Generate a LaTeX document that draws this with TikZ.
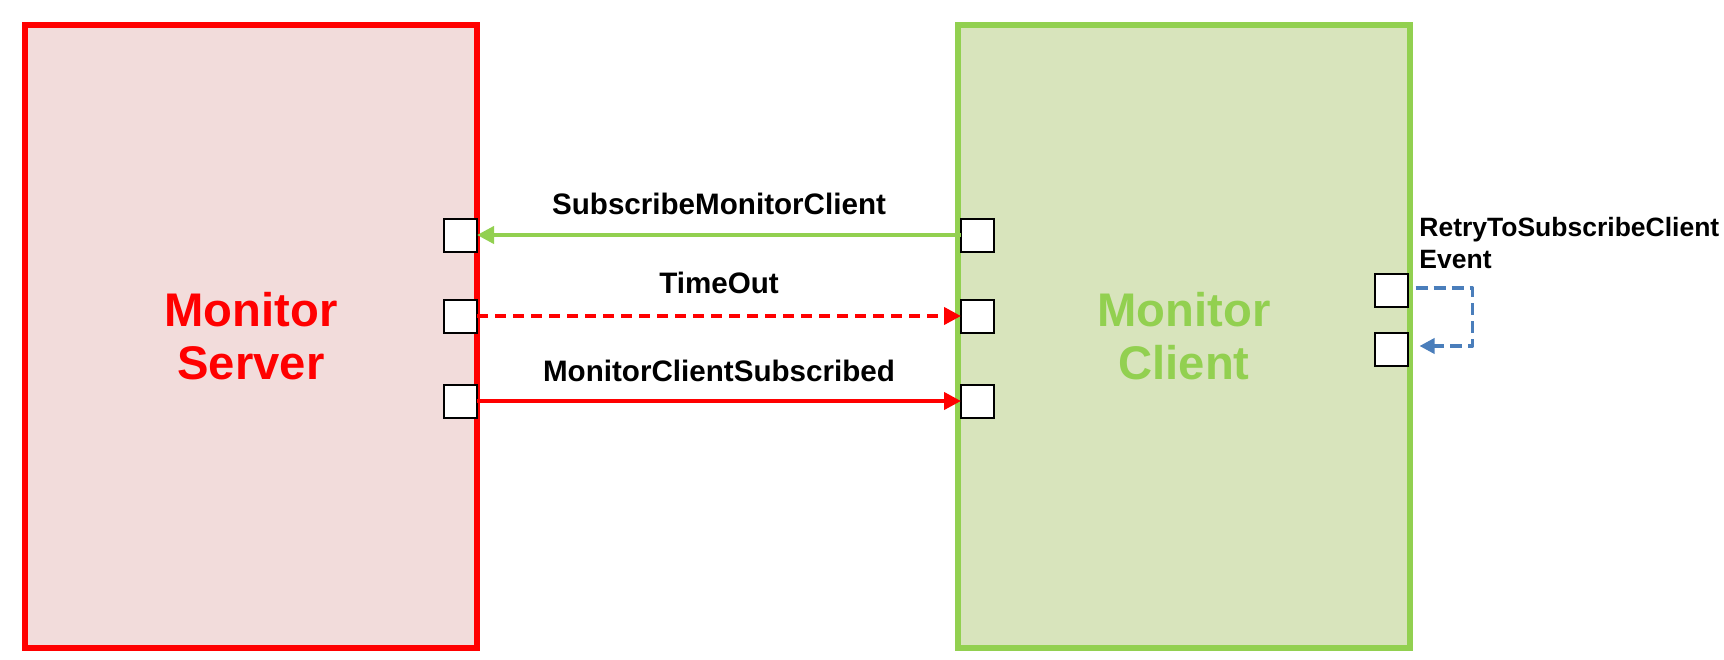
\documentclass[tikz,border=0pt]{standalone}
\usepackage{fontspec}
\setmainfont{Liberation Sans}
\usetikzlibrary{arrows.meta,positioning}
\definecolor{srvred}{HTML}{FF0000}
\definecolor{srvfill}{HTML}{F2DCDB}
\definecolor{cligreen}{HTML}{92D050}
\definecolor{clifill}{HTML}{D8E4BC}
\definecolor{retryblue}{HTML}{4A7EBB}
\begin{document}
\begin{tikzpicture}[x=0.5pt,y=-0.5pt,
	box/.style={rectangle,draw,line width=2.75pt,outer sep=0,minimum width=226pt,
		minimum height=311.5pt,align=center,font=\bfseries\fontsize{23.6}{26.5}\selectfont},
	port/.style={rectangle,draw=black,fill=white,line width=1pt,minimum size=16.5pt,
		inner sep=0,outer sep=0},
	msg/.style={line width=2pt,-{Triangle[length=8.5pt,width=8.5pt]}},
	lbl/.style={font=\bfseries\fontsize{14.8}{17}\selectfont,inner sep=0,text=black},
	note/.style={font=\bfseries\fontsize{13.25}{16}\selectfont,inner sep=0,align=left}]
\useasboundingbox (0,0) rectangle (1724,659);
% the two components
\node[box,draw=srvred,fill=srvfill,text=srvred] (server) at (251,336.5) {Monitor\\Server};
\node[box,draw=cligreen,fill=clifill,text=cligreen] (client) at (1184,336.5) {Monitor\\Client};
% ports
\node[port,anchor=east] (sp1) at (server.east |- 0,235) {};
\node[port,anchor=east] (sp2) at (server.east |- 0,316) {};
\node[port,anchor=east] (sp3) at (server.east |- 0,401) {};
\node[port,anchor=west,xshift=1.5pt] (cp1) at (client.west |- 0,235) {};
\node[port,anchor=west,xshift=1.5pt] (cp2) at (client.west |- 0,316) {};
\node[port,anchor=west,xshift=1.5pt] (cp3) at (client.west |- 0,401) {};
\node[port,anchor=east,xshift=-1.25pt] (cr1) at (client.east |- 0,290) {};
\node[port,anchor=east,xshift=-1.25pt] (cr2) at (client.east |- 0,349) {};
% messages
\draw[msg,cligreen] (cp1.west) -- node[lbl,above=9.25pt] {SubscribeMonitorClient} (sp1.east);
\draw[msg,srvred,dash pattern=on 5.5pt off 3.5pt] (sp2.east) -- node[lbl,above=10pt] {TimeOut} (cp2.west);
\draw[msg,srvred] (sp3.east) -- node[lbl,above=8.7pt] {MonitorClientSubscribed} (cp3.west);
\draw[retryblue,line width=1.75pt,dash pattern=on 6pt off 3pt,line join=round,
	-{Triangle[length=7.5pt,width=7.5pt]},shorten <=4pt,shorten >=6pt]
	([yshift=1pt]cr1.east) -- ++(65,0) |- ([yshift=1.5pt]cr2.east);
\node[note,anchor=north west] (retrylbl) at (1419,217) {RetryToSubscribeClient\\Event};
\end{tikzpicture}
\end{document}
